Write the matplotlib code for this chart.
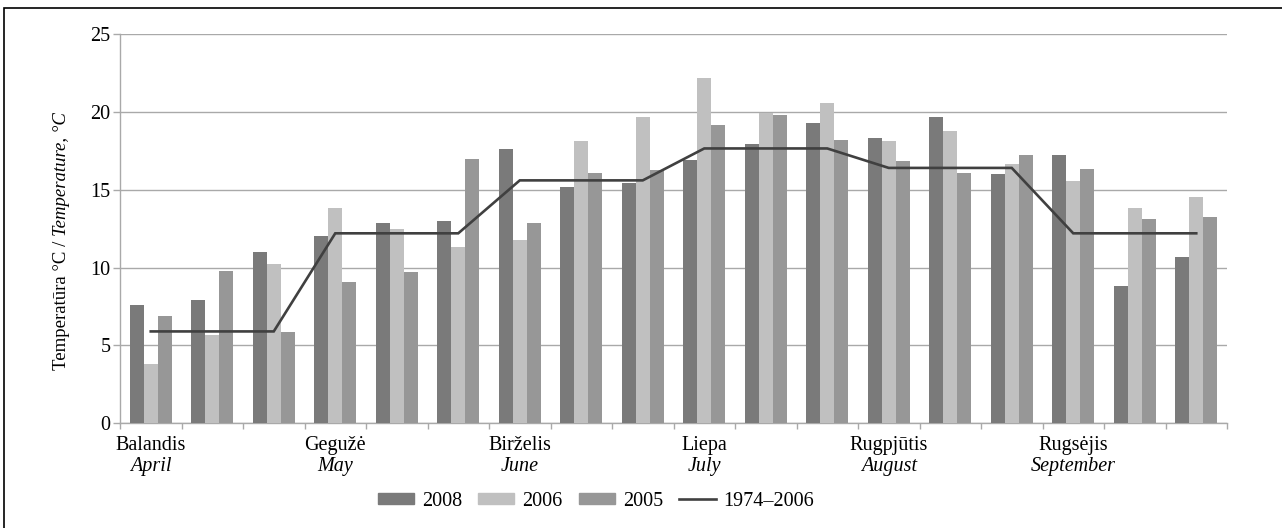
import matplotlib
matplotlib.use("Agg")
import matplotlib.pyplot as plt
from matplotlib.lines import Line2D
from matplotlib.patches import Patch, Rectangle
import numpy as np

plt.rcParams['font.family'] = ['Liberation Serif', 'DejaVu Serif']

months_lt = ["Balandis", "Gegužė", "Birželis", "Liepa", "Rugpjūtis", "Rugsėjis"]
months_en = ["April", "May", "June", "July", "August", "September"]

t2008 = [7.6, 7.95, 11.0, 12.0, 12.85, 13.0, 17.6, 15.15, 15.4, 16.9, 17.95, 19.3,
         18.3, 19.7, 16.0, 17.25, 8.8, 10.65]
t2006 = [3.8, 5.65, 10.2, 13.85, 12.5, 11.3, 11.75, 18.1, 19.7, 22.2, 19.95, 20.55,
         18.1, 18.8, 16.65, 15.55, 13.85, 14.55]
t2005 = [6.9, 9.8, 5.85, 9.1, 9.7, 17.0, 12.85, 16.05, 16.25, 19.15, 19.8, 18.2,
         16.85, 16.05, 17.2, 16.35, 13.1, 13.25]
mean_1974_2006 = [5.9, 5.9, 5.9, 12.2, 12.2, 12.2, 15.6, 15.6, 15.6, 17.65, 17.65, 17.65,
                  16.4, 16.4, 16.4, 12.2, 12.2, 12.2]

c2008 = "#7a7a7a"
c2006 = "#c0c0c0"
c2005 = "#979797"
cline = "#404040"
grid_c = "#a9a9a9"
fs = 14.5

fig = plt.figure(figsize=(12.82, 5.28), dpi=100)
ax = fig.add_axes([120/1282, 1-423.3/528, (1227-120)/1282, (423.3-34)/528])

n = len(t2008)
x = np.arange(n)
w = 0.228
ax.bar(x - w, t2008, w, color=c2008, zorder=3)
ax.bar(x, t2006, w, color=c2006, zorder=3)
ax.bar(x + w, t2005, w, color=c2005, zorder=3)
ax.plot(x, mean_1974_2006, color=cline, lw=1.9, zorder=4, solid_joinstyle='miter')

ax.set_xlim(-0.5, n - 0.5)
ax.set_ylim(0, 25)
ax.set_yticks([0, 5, 10, 15, 20, 25])
ax.yaxis.grid(True, color=grid_c, lw=1.0, zorder=0)
ax.set_axisbelow(True)
for s in ['top', 'right']:
    ax.spines[s].set_visible(False)
for s in ['left', 'bottom']:
    ax.spines[s].set_color(grid_c)
    ax.spines[s].set_linewidth(1.0)

ax.set_xticks(np.arange(-0.5, n, 1.0))
ax.set_xticklabels([])
ax.tick_params(axis='x', length=4, color=grid_c, width=1.0)
ax.tick_params(axis='y', length=5, color=grid_c, width=1.0, labelsize=fs, pad=2)

trans = ax.get_xaxis_transform()
for i, (lt, en) in enumerate(zip(months_lt, months_en)):
    ax.text(3 * i, -0.056, lt, transform=trans, ha='center', va='center', fontsize=fs)
    ax.text(3 * i, -0.112, en, transform=trans, ha='center', va='center', fontsize=fs,
            style='italic')

# y label (mixed normal / italic)
t1 = fig.text(62/1282, 1-370/528, "Temperatūra °C / ", rotation=90, ha='center',
              va='bottom', fontsize=13.5)
ax.annotate("Temperature, °C", xy=(0.5, 1.0), xycoords=t1, ha='center', va='bottom',
            rotation=90, fontsize=13.5, style='italic', annotation_clip=False)

handles = [Patch(color=c2008), Patch(color=c2006), Patch(color=c2005),
           Line2D([], [], color=cline, lw=1.9)]
labels = ["2008", "2006", "2005", "1974–2006"]
fig.legend(handles, labels, loc='center', bbox_to_anchor=(596/1282, 1-501/528), ncol=4,
           frameon=False, fontsize=fs, handlelength=1.8, handleheight=0.42,
           handletextpad=0.4, columnspacing=0.8)

fig.patches.append(Rectangle((4/1282, -0.1), 1.2, 1.1 - 8/528, transform=fig.transFigure,
                             fill=False, ec='black', lw=1.2))

fig.savefig("out.png", dpi=100)
